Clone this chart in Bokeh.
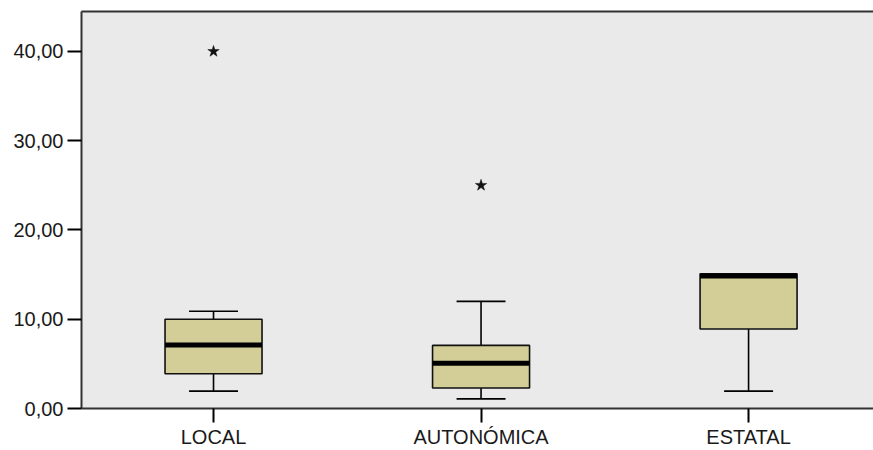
import numpy as np
from bokeh.plotting import figure
from bokeh.models import FixedTicker, LinearAxis, Range1d
from bokeh.embed import file_html
from bokeh.resources import INLINE

# ---- data ----
categories = ["LOCAL", "AUTONÓMICA", "ESTATAL"]
whisker_low = [1.95, 1.08, 1.95]
q1 = [3.9, 2.3, 8.9]
median = [7.1, 5.06, 14.85]
q3 = [10.0, 7.07, 15.1]
whisker_high = [10.9, 12.0, 15.1]
outlier_cat = ["LOCAL", "AUTONÓMICA"]
outlier_val = [40.0, 25.0]
y_ticks = [0, 10, 20, 30, 40]
y_tick_labels = ["0,00", "10,00", "20,00", "30,00", "40,00"]

# ---- styling ----
FONT = "Liberation Sans"
FS = "20px"
BOX_FILL = "#D3CE97"
BG = "#EAEAEA"
AX = "#333333"

xs = np.arange(1, len(categories) + 1, dtype=float)
pos = {c: x for c, x in zip(categories, xs)}
box_w = 0.3626
cap_w = 0.183

p = figure(width=873, height=450, output_backend="svg", toolbar_location=None,
           x_range=Range1d(0.5065, 3.467), y_range=Range1d(0, 44.47),
           min_border_left=81, min_border_right=0, min_border_top=11, min_border_bottom=41)
p.background_fill_color = BG
p.border_fill_color = "white"
p.outline_line_color = None
p.grid.visible = False

# whisker stems
wl = np.array(whisker_low); wh = np.array(whisker_high)
p.segment(x0=xs, y0=np.array(q3), x1=xs, y1=wh, line_color="black", line_width=1.6)
p.segment(x0=xs, y0=np.array(q1), x1=xs, y1=wl, line_color="black", line_width=1.6)
# caps
p.segment(x0=xs - cap_w / 2, y0=wh, x1=xs + cap_w / 2, y1=wh, line_color="black", line_width=1.6)
p.segment(x0=xs - cap_w / 2, y0=wl, x1=xs + cap_w / 2, y1=wl, line_color="black", line_width=1.6)
# boxes
p.vbar(x=xs, width=box_w, bottom=q1, top=q3, fill_color=BOX_FILL,
       line_color="#111111", line_width=1.6)
# medians
p.rect(x=xs, y=median, width=box_w, height=5, height_units="screen",
       fill_color="black", line_color=None)
# outliers
p.scatter(x=[pos[c] for c in outlier_cat], y=outlier_val, marker="star", size=12,
          fill_color="#111111", line_color="#111111", line_width=0.5)

# axes
xa = p.xaxis[0]
xa.ticker = FixedTicker(ticks=list(xs))
xa.major_label_overrides = {float(x): c for x, c in zip(xs, categories)}
xa.minor_tick_line_color = None
xa.major_tick_out = 14
xa.major_tick_in = 0
xa.major_label_standoff = 3

ya = p.yaxis[0]
ya.ticker = FixedTicker(ticks=y_ticks)
ya.major_label_overrides = {t: l for t, l in zip(y_ticks, y_tick_labels)}
ya.minor_tick_line_color = None
ya.major_tick_out = 14
ya.major_tick_in = 0
ya.major_label_standoff = 4

for ax in (xa, ya):
    ax.axis_line_color = AX
    ax.axis_line_width = 2
    ax.major_tick_line_color = "black"
    ax.major_tick_line_width = 2
    ax.major_label_text_font = FONT
    ax.major_label_text_font_size = FS
    ax.major_label_text_color = "#1a1a1a"

top = LinearAxis(ticker=FixedTicker(ticks=[]), major_label_text_font_size="0px",
                 axis_line_color=AX, axis_line_width=2, major_tick_line_color=None,
                 minor_tick_line_color=None)
p.add_layout(top, "above")

open("out.html", "w").write(file_html(p, INLINE))
